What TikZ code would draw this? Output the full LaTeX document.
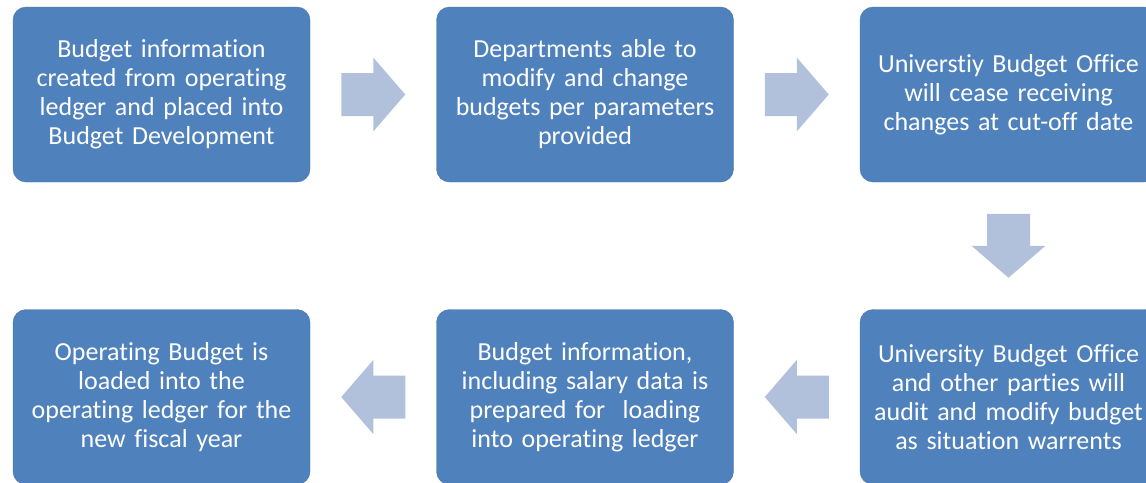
\documentclass[tikz,border=0pt]{standalone}
\usepackage{fontspec}
\setmainfont[Ligatures={NoCommon}]{Carlito}
\usetikzlibrary{calc}
\definecolor{boxblue}{RGB}{79,129,189}
\definecolor{boxedge}{RGB}{72,118,173}
\definecolor{flowfill}{RGB}{177,193,220}
\tikzset{
  stage/.style={draw=boxedge,fill=boxblue,rounded corners=13pt,align=center,text=white,
    font=\fontsize{26}{29}\selectfont,minimum width=297pt,minimum height=175pt,
    text width=290pt,inner sep=0pt}
}
\begin{document}
\begin{tikzpicture}[x=1pt,y=-1pt]
% block arrow halfway between two boxes, turned by #3
\newcommand{\flowarrow}[3]{\fill[flowfill,shift={($(#1)!0.5!(#2)$)},rotate=#3]
  (-32,-21.5) -- (0,-21.5) -- (0,-37) -- (32,0) -- (0,37) -- (0,21.5) -- (-32,21.5) -- cycle;}
\useasboundingbox (0,0) rectangle (1146,482);
\clip (0,0) rectangle (1146,482);
\node[stage] (b1) at (161.5,94.5) {Budget information\\created from operating\\ledger and placed into\\Budget Development};
\node[stage] (b2) at (585,94.5) {Departments able to\\modify and change\\budgets per parameters\\provided};
\node[stage] (b3) at (1008.5,94.5) {Universtiy Budget Office\\will cease receiving\\changes at cut-off date};
\node[stage] (b6) at (1008.5,397) {University Budget Office\\and other parties will\\audit and modify budget\\as situation warrents};
\node[stage] (b5) at (585,397) {Budget information,\\including salary data is\\prepared for~ loading\\into operating ledger};
\node[stage] (b4) at (161.5,397) {Operating Budget is\\loaded into the\\operating ledger for the\\new fiscal year};
\flowarrow{b1.east}{b2.west}{0}
\flowarrow{b2.east}{b3.west}{0}
\flowarrow{b3.south}{b6.north}{-90}
\flowarrow{b6.west}{b5.east}{180}
\flowarrow{b5.west}{b4.east}{180}
\end{tikzpicture}
\end{document}
